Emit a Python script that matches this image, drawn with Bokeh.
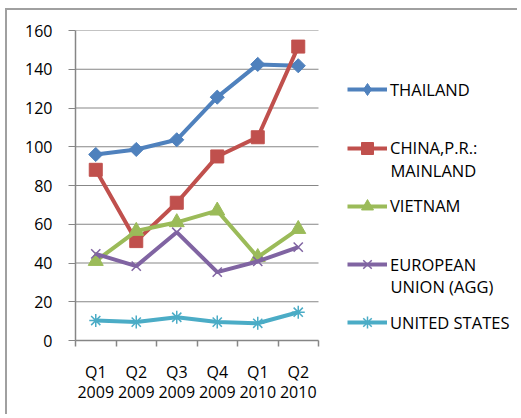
from bokeh.plotting import figure
from bokeh.models import (Legend, LegendItem, FixedTicker, LinearAxis, Label,
                          Range1d, ColumnDataSource)
from bokeh.embed import file_html
from bokeh.resources import INLINE

quarters = ["Q1", "Q2", "Q3", "Q4", "Q1", "Q2"]
years = ["2009", "2009", "2009", "2009", "2010", "2010"]
y_ticks = [0, 20, 40, 60, 80, 100, 120, 140, 160]

series_names = ["THAILAND", "CHINA,P.R.:", "VIETNAM", "EUROPEAN", "UNITED STATES"]
second_lines = {"CHINA,P.R.:": "MAINLAND", "EUROPEAN": "UNION (AGG)"}
thailand = [96.0, 98.6, 103.6, 125.6, 142.5, 141.8]
china = [88.1, 51.3, 71.1, 95.0, 104.9, 151.7]
vietnam = [41.0, 56.5, 61.0, 67.0, 43.0, 57.5]
eu = [44.7, 38.4, 55.9, 35.3, 40.8, 48.2]
us = [10.3, 9.5, 12.0, 9.5, 8.9, 14.6]

colors = ["#4F81BD", "#C0504D", "#9BBB59", "#8064A2", "#4BACC6"]
FONT = "Open Sans"

n = len(quarters)
xs = [i + 0.5 for i in range(n)]

# layout (pixels)
W, H = 512, 406
LEFT, TOP, BOTTOM = 68, 20, 76
FRAME_W = W - LEFT
FRAME_H = H - TOP - BOTTOM
CAT_PX = 40.5                      # width of one category in pixels
x_end = FRAME_W / CAT_PX

p = figure(width=W, height=H, output_backend="svg", toolbar_location=None,
           x_range=Range1d(0, x_end), y_range=Range1d(0, 160),
           min_border_left=LEFT, min_border_right=0, min_border_top=TOP,
           min_border_bottom=BOTTOM, x_axis_type=None, y_axis_type=None)
p.styles = {"margin-left": "5px", "margin-top": "8px",
            "border-left": "2px solid #a0a0a0", "border-top": "2px solid #a0a0a0"}
p.outline_line_color = None
p.xgrid.visible = False
p.ygrid.visible = False

# horizontal gridlines only over the plot area
p.segment(x0=[0] * (len(y_ticks) - 1), x1=[n] * (len(y_ticks) - 1),
          y0=y_ticks[1:], y1=y_ticks[1:], line_color="#878787", line_width=1)

# y axis
yax = LinearAxis(ticker=FixedTicker(ticks=y_ticks))
yax.axis_line_color = "#868686"
yax.axis_line_width = 1.5
yax.major_tick_line_color = "#868686"
yax.major_tick_in = 0
yax.major_tick_out = 7
yax.minor_tick_line_color = None
yax.major_label_standoff = 16
yax.major_label_text_font = FONT
yax.major_label_text_font_size = "16px"
yax.major_label_text_color = "#000000"
p.add_layout(yax, "left")

# x axis (quarters) with ticks at category boundaries
xax = LinearAxis(ticker=FixedTicker(ticks=xs, minor_ticks=list(range(n + 1))),
                 bounds=(0, n))
xax.major_label_overrides = {x: q for x, q in zip(xs, quarters)}
xax.axis_line_color = "#868686"
xax.axis_line_width = 1.5
xax.major_tick_line_color = None
xax.major_tick_in = 0
xax.major_tick_out = 0
xax.minor_tick_line_color = "#868686"
xax.minor_tick_line_width = 1.5
xax.minor_tick_in = 0
xax.minor_tick_out = 6
xax.major_label_standoff = 14
xax.major_label_text_font = FONT
xax.major_label_text_font_size = "16px"
xax.major_label_text_color = "#000000"
p.add_layout(xax, "below")

# x axis (years)
xax2 = LinearAxis(ticker=FixedTicker(ticks=xs), bounds=(0, n))
xax2.major_label_overrides = {x: y for x, y in zip(xs, years)}
xax2.axis_line_color = None
xax2.major_tick_line_color = None
xax2.minor_tick_line_color = None
xax2.major_tick_in = 0
xax2.major_tick_out = 0
xax2.major_label_standoff = 0
xax2.major_label_text_font = FONT
xax2.major_label_text_font_size = "16px"
xax2.major_label_text_color = "#000000"
p.add_layout(xax2, "below")

data = [thailand, china, vietnam, eu, us]
markers = [
    dict(marker="square", size=10, angle=0.7854, line_width=1),
    dict(marker="square", size=13, line_width=1),
    dict(marker="triangle", size=15, line_width=1),
    dict(marker="x", size=13, line_width=1.5),
    dict(marker="asterisk", size=13, line_width=1.5),
]

# legend geometry (pixels, measured from the frame)
LEG_X = 272
FIRST_CENTER = 59.3     # first entry's centre, below the frame top
STEP = 58.25            # distance between entries
ITEM_H = 30
LEG_FONT = "16.5px"
px_per_y = FRAME_H / 160
label_x = (LEG_X + 40 + 3) / CAT_PX

for idx, (name, vals, col, mk) in enumerate(zip(series_names, data, colors, markers)):
    src = ColumnDataSource(dict(x=xs, y=vals))
    lr = p.line("x", "y", source=src, line_color=col, line_width=4)
    leg_marker = None
    if mk.get("angle"):
        # the legend does not rotate markers: a zero-size diamond stands in for it
        leg_marker = p.scatter("x", "y", source=src, marker="diamond", size=0,
                               fill_color=col, line_color=col, line_width=1)
    sr = p.scatter("x", "y", source=src, fill_color=col, line_color=col, **mk)
    center = FIRST_CENTER + idx * STEP
    bottom = FRAME_H - center - ITEM_H / 2
    lg = Legend(items=[LegendItem(label=name, renderers=[lr, leg_marker or sr])],
                location=(LEG_X, bottom))
    lg.border_line_color = None
    lg.background_fill_alpha = 0
    lg.padding = 0
    lg.margin = 0
    lg.glyph_width = 40
    lg.glyph_height = ITEM_H
    lg.label_height = ITEM_H
    lg.label_standoff = 3
    lg.label_text_font = FONT
    lg.label_text_font_size = LEG_FONT
    lg.label_text_color = "#000000"
    p.add_layout(lg)
    if name in second_lines:
        yv = (FRAME_H - (center + 22)) / px_per_y
        p.add_layout(Label(x=label_x, y=yv, text=second_lines[name],
                           text_font=FONT, text_font_size=LEG_FONT,
                           text_color="#000000", text_baseline="middle",
                           text_align="left"))

open("out.html", "w").write(file_html(p, INLINE))
